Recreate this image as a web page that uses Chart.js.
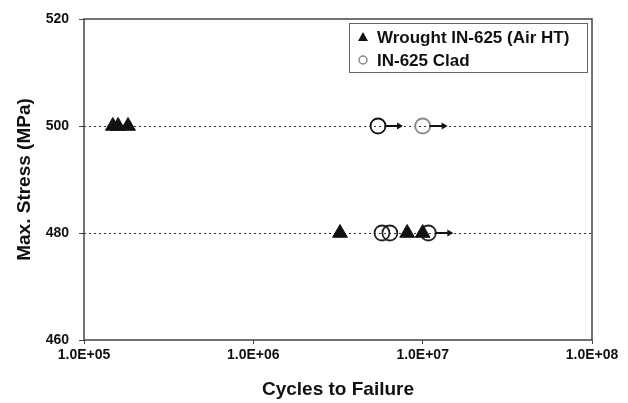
<!DOCTYPE html>
<html>
<head>
<meta charset="utf-8">
<script src="https://cdn.jsdelivr.net/npm/chart.js@4.4.1/dist/chart.umd.min.js"></script>
<style>
  html, body { margin: 0; padding: 0; background: #ffffff; }
  #wrap { width: 628px; height: 403px; }
</style>
</head>
<body>
<div id="wrap"><canvas id="c" width="628" height="403"></canvas></div>
<script>
// ---- Data ----
const seriesLabels = ["Wrought IN-625 (Air HT)", "IN-625 Clad"];
const wroughtCycles = [1.48e5, 1.59e5, 1.82e5, 3.25e6, 8.1e6, 1.0e7];
const wroughtStress = [500, 500, 500, 480, 480, 480];
const cladCycles = [5.45e6, 1.0e7, 5.75e6, 6.4e6, 1.08e7];
const cladStress = [500, 500, 480, 480, 480];
const cladRunout = [true, true, false, false, true];
const xTickValues = [1e5, 1e6, 1e7, 1e8];
const xTickLabels = ["1.0E+05", "1.0E+06", "1.0E+07", "1.0E+08"];
const yTickValues = [460, 480, 500, 520];

const FONT = "'Liberation Sans', Arial, sans-serif";

const toPts = (xs, ys) => xs.map((x, i) => ({ x: x, y: ys[i] }));

// Dotted gridlines, plot frame, runout arrows, legend
const framePlugin = {
  id: 'frame',
  beforeDatasetsDraw(chart) {
    const { ctx, chartArea: a, scales } = chart;
    ctx.save();
    ctx.strokeStyle = '#333';
    ctx.lineWidth = 1.2;
    ctx.setLineDash([2, 3]);
    yTickValues.forEach(v => {
      if (v === yTickValues[0] || v === yTickValues[yTickValues.length - 1]) return;
      const y = Math.round(scales.y.getPixelForValue(v)) + 0.5;
      ctx.beginPath(); ctx.moveTo(a.left, y); ctx.lineTo(a.right, y); ctx.stroke();
    });
    ctx.setLineDash([]);
    ctx.lineWidth = 1.5;
    ctx.strokeStyle = '#444';
    ctx.strokeRect(a.left, a.top, a.right - a.left, a.bottom - a.top);
    ctx.restore();
  },
  afterDatasetsDraw(chart) {
    const { ctx, scales } = chart;
    ctx.save();
    ctx.strokeStyle = '#111';
    ctx.fillStyle = '#111';
    ctx.lineWidth = 2;
    cladCycles.forEach((c, i) => {
      if (!cladRunout[i]) return;
      const x0 = scales.x.getPixelForValue(c) + 7;
      const y = scales.y.getPixelForValue(cladStress[i]);
      const x1 = x0 + 18;
      ctx.beginPath(); ctx.moveTo(x0, y); ctx.lineTo(x1 - 4, y); ctx.stroke();
      ctx.beginPath(); ctx.moveTo(x1, y); ctx.lineTo(x1 - 6, y - 3.5); ctx.lineTo(x1 - 6, y + 3.5); ctx.closePath(); ctx.fill();
    });
    ctx.restore();
  },
  afterDraw(chart) {
    const { ctx, chartArea: a } = chart;
    const right = a.right - 5, top = a.top + 4, w = 238, h = 49;
    const left = right - w;
    ctx.save();
    ctx.fillStyle = '#fff';
    ctx.fillRect(left, top, w, h);
    ctx.strokeStyle = '#666';
    ctx.lineWidth = 1;
    ctx.strokeRect(left + 0.5, top + 0.5, w, h);
    ctx.font = "bold 17px " + FONT;
    ctx.fillStyle = '#111';
    ctx.textBaseline = 'middle';
    const y1 = top + 14, y2 = top + 37;
    ctx.beginPath(); ctx.moveTo(left + 14, y1 - 5); ctx.lineTo(left + 19, y1 + 4); ctx.lineTo(left + 9, y1 + 4); ctx.closePath(); ctx.fill();
    ctx.fillText(seriesLabels[0], left + 28, y1 + 1);
    ctx.strokeStyle = '#888';
    ctx.lineWidth = 1.5;
    ctx.beginPath(); ctx.arc(left + 14, y2, 4, 0, Math.PI * 2); ctx.stroke();
    ctx.fillText(seriesLabels[1], left + 28, y2 + 1);
    ctx.restore();
  }
};

new Chart(document.getElementById('c'), {
  type: 'scatter',
  data: {
    datasets: [
      {
        label: seriesLabels[0],
        data: toPts(wroughtCycles, wroughtStress),
        pointStyle: 'triangle',
        pointRadius: 8.5,
        backgroundColor: '#111',
        borderColor: '#111',
        borderWidth: 1
      },
      {
        label: seriesLabels[1],
        data: toPts(cladCycles, cladStress),
        pointStyle: 'circle',
        pointRadius: 7.5,
        backgroundColor: 'rgba(255,255,255,0)',
        borderColor: ['#111', '#888', '#222', '#222', '#222'],
        borderWidth: 1.8
      }
    ]
  },
  options: {
    responsive: false,
    animation: false,
    events: [],
    layout: { padding: { left: 0, right: 36, top: 19, bottom: 0 } },
    plugins: { legend: { display: false }, tooltip: { enabled: false } },
    scales: {
      x: {
        type: 'logarithmic',
        min: xTickValues[0],
        max: xTickValues[xTickValues.length - 1],
        afterBuildTicks(scale) { scale.ticks = xTickValues.map(v => ({ value: v })); },
        afterFit(scale) { scale.height = 63; },
        ticks: {
          autoSkip: false,
          maxRotation: 0,
          padding: 3,
          color: '#111',
          font: { family: FONT, size: 14, weight: 'bold' },
          callback(v) { const i = xTickValues.indexOf(v); return i >= 0 ? xTickLabels[i] : ''; }
        },
        grid: { drawOnChartArea: false, tickLength: 4, color: '#444' },
        border: { display: false },
        title: {
          display: true,
          text: 'Cycles to Failure',
          color: '#111',
          font: { family: FONT, size: 19, weight: 'bold' },
          padding: { top: 0, bottom: 2 }
        }
      },
      y: {
        min: yTickValues[0],
        max: yTickValues[yTickValues.length - 1],
        afterBuildTicks(scale) { scale.ticks = yTickValues.map(v => ({ value: v })); },
        afterFit(scale) { scale.width = 84; },
        ticks: {
          padding: 10,
          color: '#111',
          font: { family: FONT, size: 14, weight: 'bold' }
        },
        grid: { drawOnChartArea: false, tickLength: 5, color: '#444' },
        border: { display: false },
        title: {
          display: true,
          text: 'Max. Stress (MPa)',
          color: '#111',
          font: { family: FONT, size: 19, weight: 'bold' },
          padding: { top: 13, bottom: 0 }
        }
      }
    }
  },
  plugins: [framePlugin]
});
</script>
</body>
</html>
